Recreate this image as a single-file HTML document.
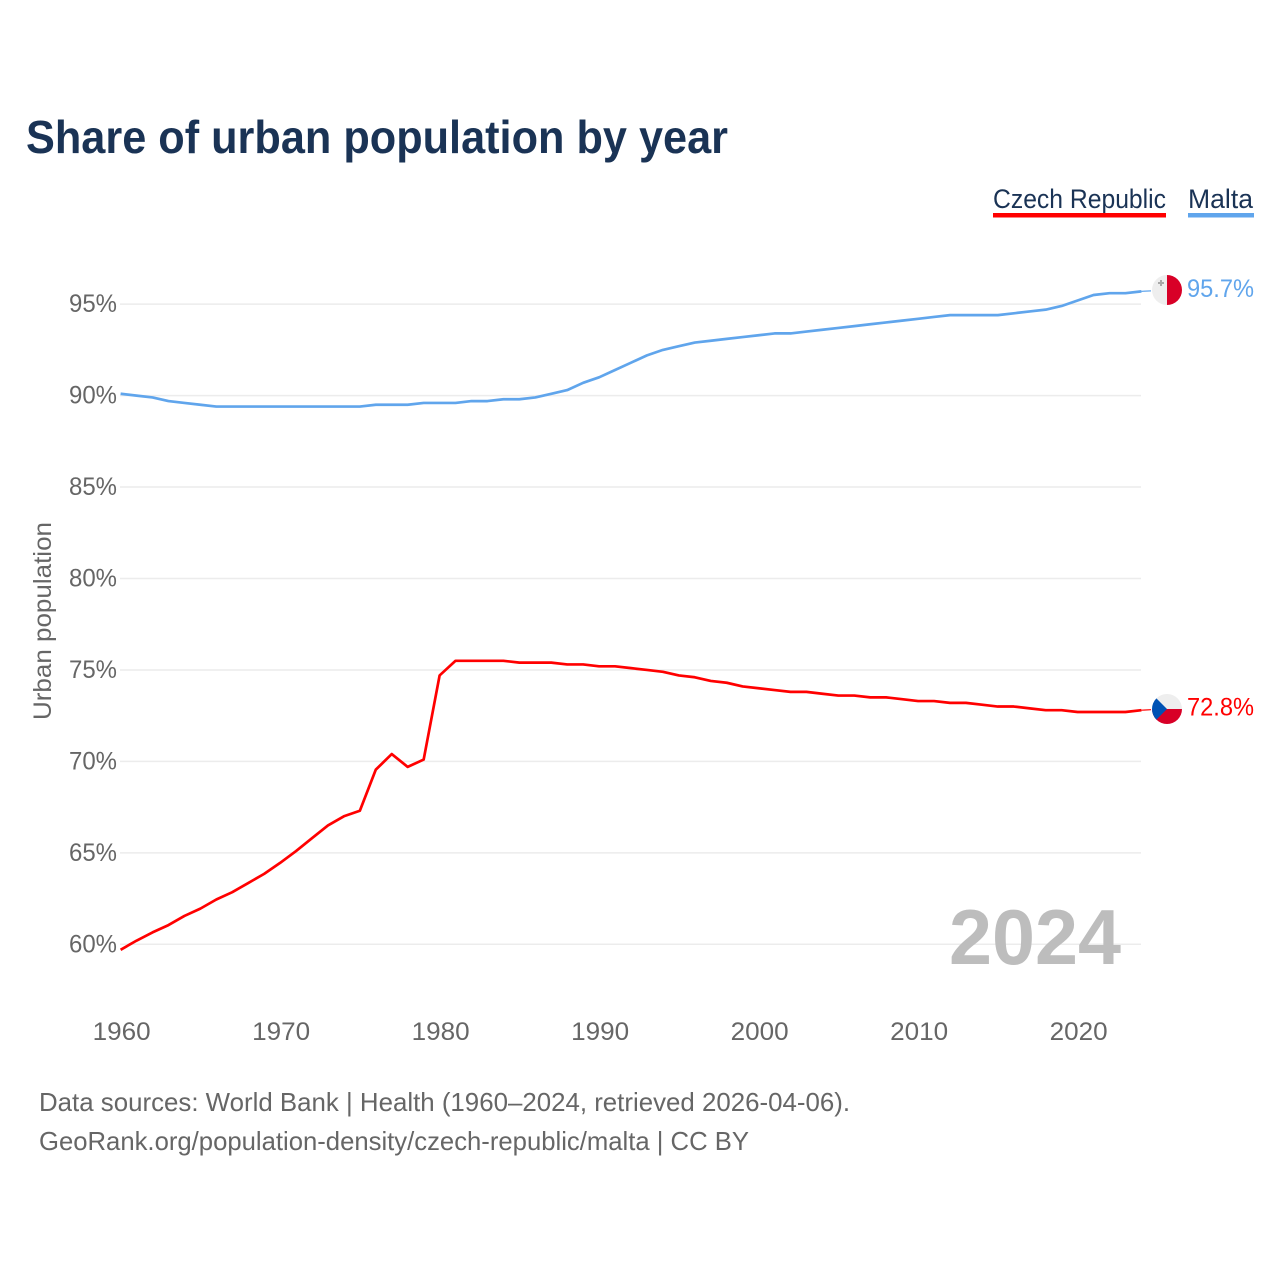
<!DOCTYPE html>
<html lang="en">
<head>
<meta charset="utf-8">
<title>Share of urban population by year</title>
<style>
html,body{margin:0;padding:0;background:#fff;width:1280px;height:1280px;overflow:hidden}
svg{display:block}
text{font-family:"Liberation Sans",Arial,sans-serif}
</style>
</head>
<body>
<svg id="chart" xmlns="http://www.w3.org/2000/svg" width="1280" height="1280" viewBox="0 0 1280 1280">
  <rect width="1280" height="1280" fill="#fff"/>
  <text x="26" y="153" font-size="46" font-weight="700" fill="#1a3355" textLength="702" lengthAdjust="spacingAndGlyphs">Share of urban population by year</text>

  <g style="cursor:pointer">
    <text x="993" y="208" font-size="27" fill="#1a3355" textLength="173" lengthAdjust="spacingAndGlyphs">Czech Republic</text>
    <rect x="993" y="213" width="173" height="4.5" fill="#ff0000"/>
  </g>
  <g style="cursor:pointer">
    <text x="1188" y="208" font-size="27" fill="#1a3355" textLength="65" lengthAdjust="spacingAndGlyphs">Malta</text>
    <rect x="1188" y="213" width="66" height="4.5" fill="#60a5ec"/>
  </g>

  <text transform="translate(51,720) rotate(-90)" font-size="25" fill="#666" textLength="198" lengthAdjust="spacingAndGlyphs">Urban population</text>

  <g id="grid"></g>
  <g id="yticks"></g>
  <g id="xticks"></g>

  <text x="949" y="964" font-size="78" font-weight="700" fill="#bdbdbd" textLength="172" lengthAdjust="spacingAndGlyphs">2024</text>

  <g id="series"></g>

  <defs>
    <clipPath id="clip-mt"><circle cx="1167" cy="290" r="15"/></clipPath>
    <clipPath id="clip-cz"><circle cx="1167" cy="709" r="15"/></clipPath>
  </defs>

  <g clip-path="url(#clip-mt)">
    <rect x="1152" y="275" width="15" height="30" fill="#eeeeee"/>
    <rect x="1167" y="275" width="15" height="30" fill="#d80027"/>
    <path d="M1160 280h2v2h2v2h-2v2h-2v-2h-2v-2h2z" fill="#a8a8a8"/>
  </g>
  <g clip-path="url(#clip-cz)">
    <rect x="1152" y="694" width="30" height="15" fill="#eeeeee"/>
    <rect x="1152" y="709" width="30" height="15" fill="#d80027"/>
    <path d="M1152 698 L1156.4 698.4 L1167 709 L1156.4 719.6 L1152 720 Z" fill="#0052b4"/>
  </g>

  <text x="39" y="1111" font-size="26" fill="#666" textLength="811" lengthAdjust="spacingAndGlyphs">Data sources: World Bank | Health (1960–2024, retrieved 2026-04-06).</text>
  <text x="39" y="1150" font-size="26" fill="#666" textLength="710" lengthAdjust="spacingAndGlyphs">GeoRank.org/population-density/czech-republic/malta | CC BY</text>
</svg>
<script>
const startYear = 1960;
const xTickYears = [1960, 1970, 1980, 1990, 2000, 2010, 2020];
const yTickValues = [60, 65, 70, 75, 80, 85, 90, 95];
const czechValues = [59.7,60.2,60.65,61.05,61.55,61.95,62.45,62.85,63.35,63.85,64.45,65.1,65.8,66.5,67.0,67.3,69.55,70.4,69.7,70.1,74.7,75.5,75.5,75.5,75.5,75.4,75.4,75.4,75.3,75.3,75.2,75.2,75.1,75.0,74.9,74.7,74.6,74.4,74.3,74.1,74.0,73.9,73.8,73.8,73.7,73.6,73.6,73.5,73.5,73.4,73.3,73.3,73.2,73.2,73.1,73.0,73.0,72.9,72.8,72.8,72.7,72.7,72.7,72.7,72.8];
const maltaValues = [90.1,90.0,89.9,89.7,89.6,89.5,89.4,89.4,89.4,89.4,89.4,89.4,89.4,89.4,89.4,89.4,89.5,89.5,89.5,89.6,89.6,89.6,89.7,89.7,89.8,89.8,89.9,90.1,90.3,90.7,91.0,91.4,91.8,92.2,92.5,92.7,92.9,93.0,93.1,93.2,93.3,93.4,93.4,93.5,93.6,93.7,93.8,93.9,94.0,94.1,94.2,94.3,94.4,94.4,94.4,94.4,94.5,94.6,94.7,94.9,95.2,95.5,95.6,95.6,95.7];

const NS = 'http://www.w3.org/2000/svg';
function xScale(year) { return 120.6 + (year - 1960) * 15.95; }
function yScale(value) { return 944.3 - (value - 60) * 18.29; }
function make(tag, attrs, parent, content) {
  const el = document.createElementNS(NS, tag);
  for (const k in attrs) el.setAttribute(k, attrs[k]);
  if (content !== undefined) el.textContent = content;
  parent.appendChild(el);
  return el;
}
const grid = document.getElementById('grid');
const yticks = document.getElementById('yticks');
const xticks = document.getElementById('xticks');
const seriesGroup = document.getElementById('series');

yTickValues.forEach(function (v) {
  const line = make('line', {x1: 120, x2: 1141, y1: yScale(v), y2: yScale(v), stroke: '#ececec', 'stroke-width': 1.5}, grid);
  
  
  const label = make('text', {x: 69, y: yScale(v) + 8, 'font-size': 25, fill: '#666', textLength: 48, lengthAdjust: 'spacingAndGlyphs'}, yticks, v + '%');
  
  
});

xTickYears.forEach(function (yr) {
  const label = make('text', {x: xScale(yr) - 28, y: 1040, 'font-size': 25, fill: '#666', textLength: 58, lengthAdjust: 'spacingAndGlyphs'}, xticks, String(yr));
  
  
});

function drawSeries(values, color, key) {
  const pts = values.map(function (v, i) { return xScale(startYear + i).toFixed(2) + ',' + yScale(v).toFixed(2); });
  const line = make('polyline', {points: pts.join(' '), fill: 'none', stroke: color, 'stroke-width': 2.7, 'stroke-linejoin': 'round'}, seriesGroup);
  
  
  const last = values[values.length - 1];
  const lastX = xScale(startYear + values.length - 1);
  const lastY = yScale(last);
  const conn = make('line', {x1: lastX, y1: lastY, x2: 1151, y2: lastY - 0.5, stroke: color, 'stroke-width': 1.2}, seriesGroup);
  
  
  const label = make('text', {x: 1187, y: lastY + 5.5, 'font-size': 25, fill: color, textLength: 67, lengthAdjust: 'spacingAndGlyphs'}, seriesGroup, last.toFixed(1) + '%');
  
  
}
drawSeries(czechValues, '#ff0000', 'czech-republic');
drawSeries(maltaValues, '#60a5ec', 'malta');
</script>
</body>
</html>
